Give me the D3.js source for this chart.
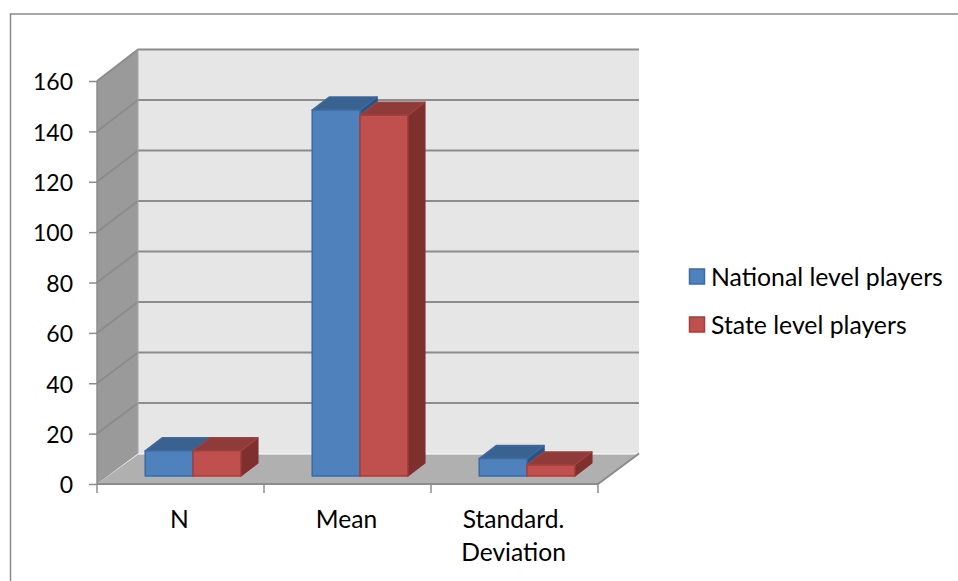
<!DOCTYPE html>
<html>
<head>
<meta charset="utf-8">
<script src="https://cdnjs.cloudflare.com/ajax/libs/d3/7.8.5/d3.min.js"></script>
<style>
html,body{margin:0;padding:0;background:#fff;}
svg{display:block;}
text{font-family:Lato,"Open Sans",sans-serif;fill:#000;}
</style>
</head>
<body>
<svg id="chart" width="958" height="581"></svg>
<script>
// Chart data
const categories = ["N", "Mean", "Standard. Deviation"];
const categoryLines = [["N"], ["Mean"], ["Standard.", "Deviation"]];
const seriesNames = ["National level players", "State level players"];
const nationalValues = [10, 145.3, 6.9];
const stateValues = [10, 143.2, 4.4];
const yTicks = [0, 20, 40, 60, 80, 100, 120, 140, 160];

// Colours per series: front, top, side
const palette = [
  {front: "#4f81bd", top: "#3a6291", side: "#2f5380", edge: "#3b6ba3"},
  {front: "#c0504d", top: "#8f3b39", side: "#7e302e", edge: "#a23f3c"}
];

const svg = d3.select("#chart");

// Front plane scales, plus the shift that carries a point to the back wall
const y = d3.scaleLinear().domain([0, 160]).range([484, 81]);
const x = d3.scaleBand().domain(categories).range([97, 598]);
const wall = {dx: 41, dy: -30.5};
const barDepth = {dx: 17, dy: -13};
const barInset = {dx: 0, dy: -8};
const barGroup = d3.scaleBand().domain(d3.range(seriesNames.length)).range([48.2, 143.8]);

const pts = a => a.map(p => p.join(",")).join(" ");

// Frame around the chart area
svg.append("path").attr("d", "M10.5,581V14H958").attr("fill", "none")
  .attr("stroke", "#8a8a8a").attr("stroke-width", 1.5);

// Walls and floor
const x0 = x.range()[0], x1 = x.range()[1];
const yB = y(0), yT = y(160);
svg.append("polygon").attr("fill", "#e6e6e6")
  .attr("points", pts([[x0 + wall.dx, yT + wall.dy - 1], [x1 + wall.dx, yT + wall.dy - 1], [x1 + wall.dx, yB + wall.dy], [x0 + wall.dx, yB + wall.dy]]));
svg.append("polygon").attr("fill", "#9a9a9a")
  .attr("points", pts([[x0, yT], [x0 + wall.dx, yT + wall.dy - 1], [x0 + wall.dx, yB + wall.dy], [x0, yB]]));
svg.append("polygon").attr("fill", "#b0b0b0")
  .attr("points", pts([[x0, yB], [x0 + wall.dx, yB + wall.dy + 1], [x1 + wall.dx, yB + wall.dy + 1], [x1, yB]]));

// Gridlines run along the side wall and across the back wall
svg.append("g").selectAll("polyline").data(yTicks).join("polyline")
  .attr("fill", "none").attr("stroke", "#8c8c8c").attr("stroke-width", 2)
  .attr("points", d => {
    const lift = d / 160; // the wall offset grows a little towards the top
    const by = y(d) + wall.dy - lift;
    return d === 0 ? pts([[x0, y(d)], [x1, y(d)], [x1 + wall.dx, by]])
                   : pts([[x0, y(d)], [x0 + wall.dx, by], [x1 + wall.dx, by]]);
  });
svg.append("line").attr("x1", x0).attr("x2", x0).attr("y1", yT).attr("y2", yB)
  .attr("stroke", "#8c8c8c").attr("stroke-width", 1.5);
svg.append("line").attr("x1", x0 + wall.dx).attr("x2", x0 + wall.dx).attr("y1", yT + wall.dy - 1).attr("y2", yB + wall.dy)
  .attr("stroke", "#a8a8a8").attr("stroke-width", 1);

// Axis ticks and labels
const axisY = svg.append("g").attr("transform", `translate(${x0},0)`)
  .call(d3.axisLeft(y).tickValues(yTicks).tickSize(8).tickPadding(16));
axisY.select(".domain").remove();
axisY.selectAll("line").attr("stroke", "#8c8c8c").attr("stroke-width", 1.5);
axisY.selectAll("text").attr("font-size", 23).attr("dy", "0.38em").style("font-family", "Lato,'Open Sans',sans-serif");

const boundaries = categories.map(c => x(c)).concat([x1]);
svg.append("g").selectAll("line").data(boundaries).join("line")
  .attr("x1", d => d).attr("x2", d => d).attr("y1", yB).attr("y2", yB + 9)
  .attr("stroke", "#8c8c8c").attr("stroke-width", 1.5);

svg.append("g").selectAll("text").data(categories).join("text")
  .attr("text-anchor", "middle").attr("font-size", 24.6)
  .attr("transform", c => `translate(${x(c) + x.bandwidth() / 2 - 1},0)`)
  .selectAll("tspan").data((c, i) => categoryLines[i]).join("tspan")
  .attr("x", 0).attr("y", (d, i) => 528 + i * 33).text(d => d);

// Bars: later categories and series are painted over earlier ones
const series = [nationalValues, stateValues];
categories.forEach((c, ci) => {
  series.forEach((vals, si) => {
    const v = vals[ci], col = palette[si];
    const l = x(c) + barGroup(si), r = l + barGroup.bandwidth();
    const t = y(v) + barInset.dy, b = y(0) + barInset.dy;
    const dx = barDepth.dx, dy = barDepth.dy;
    const g = svg.append("g").attr("stroke-width", 1.5).attr("stroke-linejoin", "round");
    g.append("polygon").attr("fill", col.side).attr("stroke", col.side)
      .attr("points", pts([[r, t], [r + dx, t + dy], [r + dx, b + dy], [r, b]]));
    g.append("polygon").attr("fill", col.top).attr("stroke", col.edge)
      .attr("points", pts([[l, t], [l + dx, t + dy], [r + dx, t + dy], [r, t]]));
    g.append("rect").attr("x", l).attr("y", t).attr("width", r - l).attr("height", b - t)
      .attr("fill", col.front).attr("stroke", col.edge);
  });
});

// Legend
const legendY = d3.scalePoint().domain(seriesNames).range([276.5, 324.5]);
const legend = svg.append("g").selectAll("g").data(seriesNames).join("g")
  .attr("transform", d => `translate(689,${legendY(d)})`);
legend.append("rect").attr("x", 0.5).attr("y", -7.5).attr("width", 15).attr("height", 15)
  .attr("fill", (d, i) => palette[i].front).attr("stroke", (d, i) => palette[i].edge).attr("stroke-width", 1.5);
legend.append("text").attr("x", 22).attr("y", 9).attr("font-size", 24.8).text(d => d);
</script>
</body>
</html>
